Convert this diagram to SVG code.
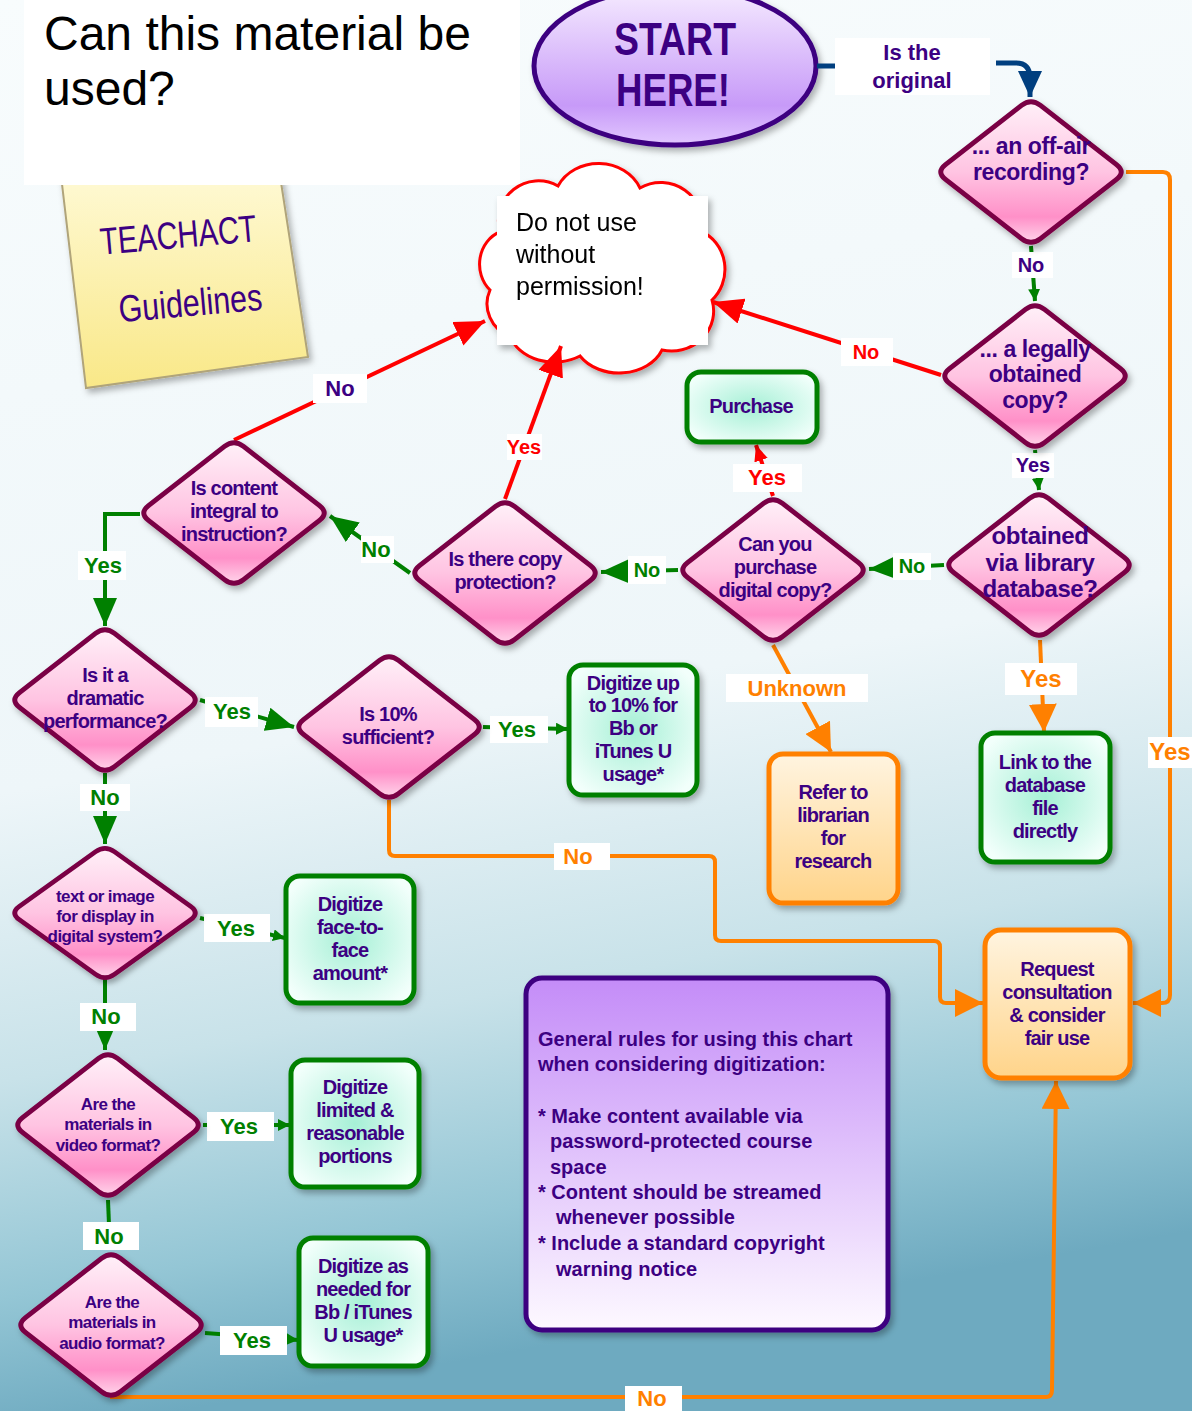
<svg xmlns="http://www.w3.org/2000/svg" width="1192" height="1411" viewBox="0 0 1192 1411">
<defs>
<linearGradient id="bg" x1="0" y1="0" x2="0.15" y2="1">
<stop offset="0" stop-color="#f8fcfd"/><stop offset="0.55" stop-color="#eef6f9"/><stop offset="0.75" stop-color="#c8e2e9"/><stop offset="0.9" stop-color="#94c6d5"/><stop offset="1" stop-color="#6eaac0"/>
</linearGradient>
<linearGradient id="pink" x1="0" y1="0" x2="0" y2="1">
<stop offset="0" stop-color="#fff0f8"/><stop offset="0.5" stop-color="#ffc4e2"/><stop offset="0.82" stop-color="#ff90c8"/><stop offset="1" stop-color="#ffd4ea"/>
</linearGradient>
<radialGradient id="mint" cx="0.5" cy="0.5" r="0.6">
<stop offset="0" stop-color="#a6f0d6"/><stop offset="1" stop-color="#f2fffb"/>
</radialGradient>
<linearGradient id="org" x1="0" y1="0" x2="0" y2="1">
<stop offset="0" stop-color="#fff4e0"/><stop offset="1" stop-color="#ffd48a"/>
</linearGradient>
<linearGradient id="lav" x1="0" y1="0" x2="0" y2="1">
<stop offset="0" stop-color="#f6ecff"/><stop offset="0.75" stop-color="#c79af8"/><stop offset="1" stop-color="#e2c8ff"/>
</linearGradient>
<linearGradient id="note" x1="0" y1="0" x2="0" y2="1">
<stop offset="0" stop-color="#c48cf8"/><stop offset="1" stop-color="#fdf9ff"/>
</linearGradient>
<linearGradient id="yel" x1="0" y1="0" x2="0" y2="1">
<stop offset="0" stop-color="#fffbdc"/><stop offset="1" stop-color="#f9e888"/>
</linearGradient>
<filter id="sh" x="-20%" y="-20%" width="140%" height="140%">
<feDropShadow dx="3" dy="4" stdDeviation="3" flood-color="#000" flood-opacity="0.3"/>
</filter>
<path id="dia" d="M-9.5,-66.6 Q0,-74 9.5,-66.6 L85.5,-7.4 Q95,0 85.5,7.4 L9.5,66.6 Q0,74 -9.5,66.6 L-85.5,7.4 Q-95,0 -85.5,-7.4 Z" fill="url(#pink)" stroke="#7a0044" stroke-width="5"/>
<marker id="ag" markerUnits="userSpaceOnUse" markerWidth="12" markerHeight="12" refX="12" refY="6" orient="auto"><path d="M0,0 L12,6 L0,12 z" fill="#008000"/></marker>
<marker id="agL" markerUnits="userSpaceOnUse" markerWidth="28" markerHeight="24" refX="28" refY="12" orient="auto"><path d="M0,0 L28,12 L0,24 z" fill="#008000"/></marker>
<marker id="ao" markerUnits="userSpaceOnUse" markerWidth="28" markerHeight="28" refX="28" refY="14" orient="auto"><path d="M0,0 L28,14 L0,28 z" fill="#ff8000"/></marker>
<marker id="ar" markerUnits="userSpaceOnUse" markerWidth="30" markerHeight="26" refX="30" refY="13" orient="auto"><path d="M0,0 L30,13 L0,26 z" fill="#ff0000"/></marker>
<marker id="arS" markerUnits="userSpaceOnUse" markerWidth="16" markerHeight="14" refX="16" refY="7" orient="auto"><path d="M0,0 L16,7 L0,14 z" fill="#ff0000"/></marker>
<marker id="ab" markerUnits="userSpaceOnUse" markerWidth="26" markerHeight="24" refX="26" refY="12" orient="auto"><path d="M0,0 L26,12 L0,24 z" fill="#003f7f"/></marker>
<style>
.t{font-family:"Liberation Sans",Arial,sans-serif;font-weight:bold;fill:#3c0082;text-anchor:middle;font-size:20px;letter-spacing:-0.8px}
.s{font-size:17px;letter-spacing:-0.6px}
.b{font-size:23px;letter-spacing:-0.4px}
.c{font-size:24px;letter-spacing:-0.4px}
.l{font-family:"Liberation Sans",Arial,sans-serif;font-weight:bold;text-anchor:middle;font-size:22px}
.l20{font-size:20px}.l24{font-size:24px}
.lg{fill:#008000}.lr{fill:#ff0000}.lp{fill:#3c0082}.lo{fill:#ff8000}
.lb{fill:#ffffff}
.gb{fill:url(#mint);stroke:#008000;stroke-width:5}
.ob{fill:url(#org);stroke:#ff8000;stroke-width:5}
.cg{fill:none;stroke:#008000;stroke-width:4}
.co{fill:none;stroke:#ff8000;stroke-width:4}
.cr{fill:none;stroke:#ff0000;stroke-width:4}
.nt{font-family:"Liberation Sans",Arial,sans-serif;font-weight:bold;fill:#3c0082;font-size:20px}
</style>
</defs>
<rect x="0" y="0" width="1192" height="1411" fill="url(#bg)"/>

<g id="sticky">
<polygon points="58,150 276,150 308,357 86,388" fill="url(#yel)" stroke="#b0a47a" stroke-width="2" filter="url(#sh)"/>
<text x="178" y="248" transform="rotate(-5 178 232)" font-family="Liberation Sans,Arial,sans-serif" font-size="38" fill="#3c0082" text-anchor="middle" textLength="157" lengthAdjust="spacingAndGlyphs">TEACHACT</text>
<text x="190" y="316" transform="rotate(-5 190 300)" font-family="Liberation Sans,Arial,sans-serif" font-size="38" fill="#3c0082" text-anchor="middle" textLength="144" lengthAdjust="spacingAndGlyphs">Guidelines</text>
</g>

<g id="title">
<rect x="24" y="0" width="496" height="185" fill="#ffffff"/>
<text x="44" y="50" font-family="Liberation Sans,Arial,sans-serif" font-size="48" fill="#000">Can this material be</text>
<text x="44" y="105" font-family="Liberation Sans,Arial,sans-serif" font-size="48" fill="#000">used?</text>
</g>

<g id="cloud" filter="url(#sh)">
<path d="M500,232 A40,40 0 0 1 558,186 A45,40 0 0 1 640,188 A42,42 0 0 1 702,232 A36,40 0 0 1 712,300 A42,40 0 0 1 662,350 A46,36 0 0 1 580,356 A46,36 0 0 1 510,336 A34,34 0 0 1 490,290 A30,34 0 0 1 500,232 Z" fill="#fff" stroke="#ff0000" stroke-width="3"/>
<rect x="497" y="196" width="211" height="149" fill="#fff"/>
<text x="516" y="231" font-family="Liberation Sans,Arial,sans-serif" font-size="25" fill="#000">Do not use</text>
<text x="516" y="263" font-family="Liberation Sans,Arial,sans-serif" font-size="25" fill="#000">without</text>
<text x="516" y="295" font-family="Liberation Sans,Arial,sans-serif" font-size="25" fill="#000">permission!</text>
</g>

<g id="start">
<ellipse cx="675" cy="66" rx="141" ry="79" fill="url(#lav)" stroke="#3c0080" stroke-width="5" filter="url(#sh)"/>
<text x="675" y="55" font-family="Liberation Sans,Arial,sans-serif" font-weight="bold" font-size="46" fill="#3c0082" text-anchor="middle" textLength="122" lengthAdjust="spacingAndGlyphs">START</text>
<text x="673" y="106" font-family="Liberation Sans,Arial,sans-serif" font-weight="bold" font-size="46" fill="#3c0082" text-anchor="middle" textLength="114" lengthAdjust="spacingAndGlyphs">HERE!</text>
</g>

<g id="connectors">
<path d="M817,66 L836,66" fill="none" stroke="#003f7f" stroke-width="5"/>
<path d="M996,63 L1016,63 Q1030,63 1030,78 L1030,97" fill="none" stroke="#003f7f" stroke-width="5" marker-end="url(#ab)"/>
<path class="cg" d="M1031,246 L1035,301" stroke-width="3" marker-end="url(#ag)"/>
<path class="co" d="M1126,172 L1163,172 Q1170,172 1170,180 L1170,995 Q1170,1003 1162,1003 L1133,1003" marker-end="url(#ao)"/>
<path class="cr" d="M941,375 L713,302" marker-end="url(#ar)"/>
<path class="cg" d="M1035,450 L1039,490" stroke-width="3" marker-end="url(#ag)"/>
<path class="cg" d="M944,565 L869,569" stroke-width="3" marker-end="url(#agL)"/>
<path class="co" d="M1040,640 L1044,732" marker-end="url(#ao)"/>
<path class="cr" d="M773,496 L756,445" stroke-width="3" marker-end="url(#arS)"/>
<path class="cg" d="M678,570 L601,572" stroke-width="3" marker-end="url(#agL)"/>
<path class="co" d="M773,645 L831,752" marker-end="url(#ao)"/>
<path class="cr" d="M505,499 L561,346" marker-end="url(#ar)"/>
<path class="cg" d="M410,573 L330,516" stroke-width="3" marker-end="url(#agL)"/>
<path class="cr" d="M234,440 L485,321" marker-end="url(#ar)"/>
<path class="cg" d="M140,514 L105,514 L105,626" marker-end="url(#agL)"/>
<path class="cg" d="M200,700 L294,727" marker-end="url(#agL)"/>
<path class="cg" d="M105,773 L105,844" marker-end="url(#agL)"/>
<path class="cg" d="M483,727 L568,729" marker-end="url(#ag)"/>
<path class="co" d="M389,800 L389,850 Q389,856 395,856 L709,856 Q715,856 715,862 L715,935 Q715,941 721,941 L934,941 Q940,941 940,947 L940,997 Q940,1003 946,1003 L983,1003" marker-end="url(#ao)"/>
<path class="cg" d="M200,918 L285,938" marker-end="url(#ag)"/>
<path class="cg" d="M105,976 L105,1050" marker-end="url(#agL)"/>
<path class="cg" d="M203,1125 L290,1125" marker-end="url(#ag)"/>
<path class="cg" d="M108,1200 L110,1250" marker-end="url(#ag)"/>
<path class="cg" d="M205,1333 L298,1340" marker-end="url(#ag)"/>
<path class="co" d="M110,1397 L1046,1397 Q1052,1397 1052,1390 L1056,1081" marker-end="url(#ao)"/>

<rect class="lb" x="835" y="38" width="155" height="57"/>
<text class="l lp" x="912" y="60">Is the</text>
<text class="l lp" x="912" y="88">original</text>
<rect class="lb" x="1012" y="252" width="41" height="26"/><text class="l l20 lp" x="1031" y="272">No</text>
<rect class="lb" x="841" y="338" width="52" height="28"/><text class="l l20 lr" x="866" y="359">No</text>
<rect class="lb" x="1012" y="453" width="42" height="25"/><text class="l l20 lp" x="1033" y="472">Yes</text>
<rect class="lb" x="893" y="553" width="38" height="27"/><text class="l l20 lg" x="912" y="573">No</text>
<rect class="lb" x="1005" y="663" width="72" height="32"/><text class="l l24 lo" x="1041" y="687">Yes</text>
<rect class="lb" x="1148" y="737" width="44" height="31"/><text class="l l24 lo" x="1170" y="760">Yes</text>
<rect class="lb" x="733" y="464" width="69" height="28"/><text class="l lr" x="767" y="485">Yes</text>
<rect class="lb" x="628" y="556" width="38" height="28"/><text class="l l20 lg" x="647" y="577">No</text>
<rect class="lb" x="726" y="674" width="142" height="28"/><text class="l lo" x="797" y="696">Unknown</text>
<rect class="lb" x="507" y="434" width="35" height="26"/><text class="l l20 lr" x="524" y="454">Yes</text>
<rect class="lb" x="361" y="536" width="33" height="27"/><text class="l lg" x="376" y="557">No</text>
<rect class="lb" x="313" y="374" width="54" height="29"/><text class="l lp" x="340" y="396">No</text>
<rect class="lb" x="78" y="551" width="48" height="29"/><text class="l lg" x="103" y="573">Yes</text>
<rect class="lb" x="205" y="697" width="53" height="30"/><text class="l lg" x="232" y="719">Yes</text>
<rect class="lb" x="80" y="784" width="50" height="27"/><text class="l lg" x="105" y="805">No</text>
<rect class="lb" x="490" y="716" width="58" height="27"/><text class="l lg" x="517" y="737">Yes</text>
<rect class="lb" x="554" y="843" width="56" height="27"/><text class="l lo" x="578" y="864">No</text>
<rect class="lb" x="204" y="914" width="66" height="28"/><text class="l lg" x="236" y="936">Yes</text>
<rect class="lb" x="80" y="1003" width="56" height="28"/><text class="l lg" x="106" y="1024">No</text>
<rect class="lb" x="207" y="1112" width="67" height="29"/><text class="l lg" x="239" y="1134">Yes</text>
<rect class="lb" x="83" y="1222" width="56" height="28"/><text class="l lg" x="109" y="1244">No</text>
<rect class="lb" x="220" y="1326" width="67" height="29"/><text class="l lg" x="252" y="1348">Yes</text>
<rect class="lb" x="625" y="1386" width="57" height="25"/><text class="l lo" x="652" y="1406">No</text>
</g>

<g id="d1"><use href="#dia" x="1031" y="172" filter="url(#sh)"/>
<text class="t b" x="1031" y="154">... an off-air</text><text class="t b" x="1031" y="180">recording?</text></g>
<g id="d2"><use href="#dia" x="1035" y="376" filter="url(#sh)"/>
<text class="t b" x="1035" y="357">... a legally</text><text class="t b" x="1035" y="382">obtained</text><text class="t b" x="1035" y="408">copy?</text></g>
<g id="d3"><use href="#dia" x="1039" y="565" filter="url(#sh)"/>
<text class="t c" x="1040" y="544">obtained</text><text class="t c" x="1040" y="571">via library</text><text class="t c" x="1040" y="597">database?</text></g>
<g id="d4"><use href="#dia" x="773" y="570" filter="url(#sh)"/>
<text class="t" x="775" y="551">Can you</text><text class="t" x="775" y="574">purchase</text><text class="t" x="775" y="597">digital copy?</text></g>
<g id="d5"><use href="#dia" x="505" y="573" filter="url(#sh)"/>
<text class="t" x="505" y="566">Is there copy</text><text class="t" x="505" y="589">protection?</text></g>
<g id="d6"><use href="#dia" x="234" y="513" filter="url(#sh)"/>
<text class="t" x="234" y="495">Is content</text><text class="t" x="234" y="518">integral to</text><text class="t" x="234" y="541">instruction?</text></g>
<g id="d7"><use href="#dia" x="105" y="700" filter="url(#sh)"/>
<text class="t" x="105" y="682">Is it a</text><text class="t" x="105" y="705">dramatic</text><text class="t" x="105" y="728">performance?</text></g>
<g id="d8"><use href="#dia" x="389" y="727" filter="url(#sh)"/>
<text class="t" x="388" y="721">Is 10%</text><text class="t" x="388" y="744">sufficient?</text></g>
<g id="d9"><use href="#dia" transform="translate(105,913) scale(1,0.92)" filter="url(#sh)"/>
<text class="t s" x="105" y="902">text or image</text><text class="t s" x="105" y="922">for display in</text><text class="t s" x="105" y="942">digital system?</text></g>
<g id="d10"><use href="#dia" x="108" y="1125" filter="url(#sh)"/>
<text class="t s" x="108" y="1110">Are the</text><text class="t s" x="108" y="1130">materials in</text><text class="t s" x="108" y="1151">video format?</text></g>
<g id="d11"><use href="#dia" x="111" y="1325" filter="url(#sh)"/>
<text class="t s" x="112" y="1308">Are the</text><text class="t s" x="112" y="1328">materials in</text><text class="t s" x="112" y="1349">audio format?</text></g>

<g id="purchase"><rect class="gb" x="687" y="372" width="130" height="70" rx="14" filter="url(#sh)"/>
<text class="t" x="751" y="413">Purchase</text></g>
<g id="digitize10"><rect class="gb" x="569" y="665" width="128" height="130" rx="14" filter="url(#sh)"/>
<text class="t" x="633" y="690">Digitize up</text><text class="t" x="633" y="712">to 10%  for</text><text class="t" x="633" y="735">Bb or</text><text class="t" x="633" y="758">iTunes U</text><text class="t" x="633" y="781">usage*</text></g>
<g id="refer"><rect class="ob" x="769" y="754" width="129" height="149" rx="14" filter="url(#sh)"/>
<text class="t" x="833" y="799">Refer to</text><text class="t" x="833" y="822">librarian</text><text class="t" x="833" y="845">for</text><text class="t" x="833" y="868">research</text></g>
<g id="link"><rect class="gb" x="981" y="733" width="129" height="129" rx="14" filter="url(#sh)"/>
<text class="t" x="1045" y="769">Link to the</text><text class="t" x="1045" y="792">database</text><text class="t" x="1045" y="815">file</text><text class="t" x="1045" y="838">directly</text></g>
<g id="request"><rect class="ob" x="985" y="930" width="145" height="148" rx="16" filter="url(#sh)"/>
<text class="t" x="1057" y="976">Request</text><text class="t" x="1057" y="999">consultation</text><text class="t" x="1057" y="1022">&amp; consider</text><text class="t" x="1057" y="1045">fair use</text></g>
<g id="face"><rect class="gb" x="286" y="876" width="128" height="127" rx="14" filter="url(#sh)"/>
<text class="t" x="350" y="911">Digitize</text><text class="t" x="350" y="934">face-to-</text><text class="t" x="350" y="957">face</text><text class="t" x="350" y="980">amount*</text></g>
<g id="limited"><rect class="gb" x="291" y="1060" width="128" height="127" rx="14" filter="url(#sh)"/>
<text class="t" x="355" y="1094">Digitize</text><text class="t" x="355" y="1117">limited &amp;</text><text class="t" x="355" y="1140">reasonable</text><text class="t" x="355" y="1163">portions</text></g>
<g id="asneeded"><rect class="gb" x="299" y="1238" width="129" height="128" rx="14" filter="url(#sh)"/>
<text class="t" x="363" y="1273">Digitize as</text><text class="t" x="363" y="1296">needed for</text><text class="t" x="363" y="1319">Bb / iTunes</text><text class="t" x="363" y="1342">U  usage*</text></g>

<g id="rules"><rect x="526" y="978" width="362" height="352" rx="16" fill="url(#note)" stroke="#3c0080" stroke-width="5" filter="url(#sh)"/>
<text class="nt" x="538" y="1046">General rules for using this chart</text>
<text class="nt" x="538" y="1071">when considering digitization:</text>
<text class="nt" x="538" y="1123">* Make content available via</text>
<text class="nt" x="550" y="1148">password-protected course</text>
<text class="nt" x="550" y="1174">space</text>
<text class="nt" x="538" y="1199">* Content should be streamed</text>
<text class="nt" x="556" y="1224">whenever possible</text>
<text class="nt" x="538" y="1250">* Include a standard copyright</text>
<text class="nt" x="556" y="1276">warning notice</text>
</g>
</svg>
